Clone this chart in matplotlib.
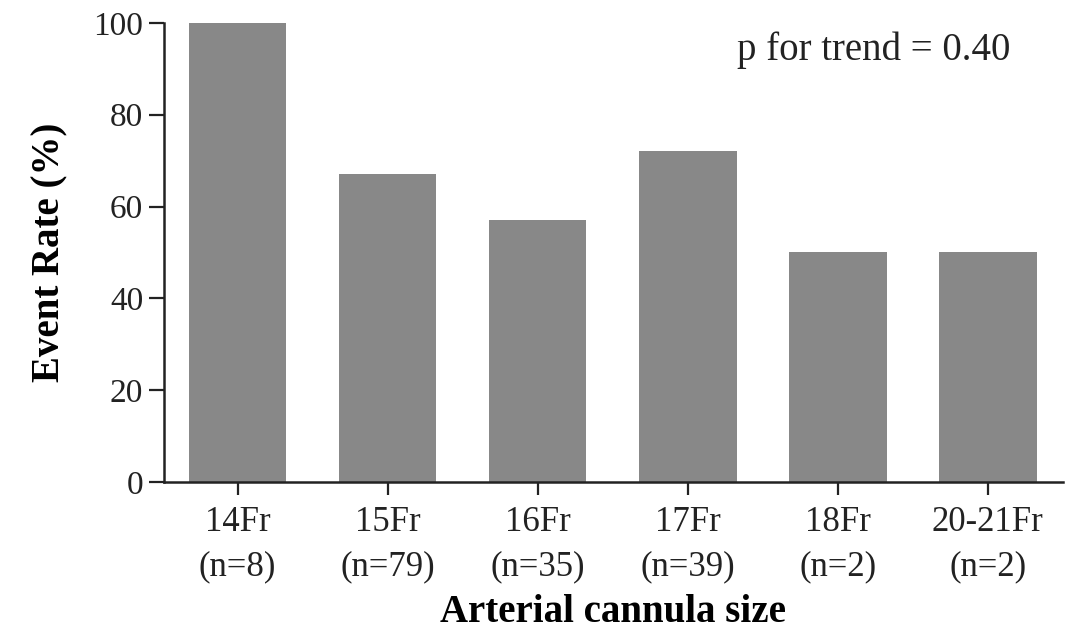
import matplotlib
matplotlib.use('Agg')
import matplotlib.pyplot as plt

# datos
sizes = ['14Fr', '15Fr', '16Fr', '17Fr', '18Fr', '20-21Fr']
n_counts = [8, 79, 35, 39, 2, 2]
event_rate = [100, 67, 57, 72, 50, 50]
p_trend = 0.40

plt.rcParams['font.family'] = ['Liberation Serif', 'DejaVu Serif']

fig = plt.figure(figsize=(10.66, 6.32), dpi=100)
ax = fig.add_axes([0.154, 0.237, 0.843, 0.727])

x = list(range(len(sizes)))
ax.bar(x, event_rate, width=0.65, color='#888888', edgecolor='none')

labels = [f'{s}\n(n={n})' for s, n in zip(sizes, n_counts)]
ax.set_xticks(x)
ax.set_xticklabels(labels, fontsize=25, color='#222222', linespacing=1.45)
ax.set_xlim(-0.49, 5.5)
ax.set_ylim(0, 100)
ax.set_yticks([0, 20, 40, 60, 80, 100])
ax.tick_params(axis='y', labelsize=24, length=11, width=1.6, pad=4, colors='#222222')
ax.tick_params(axis='x', length=9, width=1.6, pad=8, colors='#222222')

for side in ['top', 'right']:
    ax.spines[side].set_visible(False)
for side in ['left', 'bottom']:
    ax.spines[side].set_linewidth(1.8)
    ax.spines[side].set_color('#222222')

ax.set_ylabel('Event Rate (%)', fontsize=28, fontweight='bold', labelpad=18)
ax.set_xlabel('Arterial cannula size', fontsize=28, fontweight='bold', labelpad=8)

ax.text(4.24, 94, f'p for trend = {p_trend:.2f}', fontsize=28, ha='center', va='center',
        color='#222222')

fig.savefig('out.png', dpi=100)
